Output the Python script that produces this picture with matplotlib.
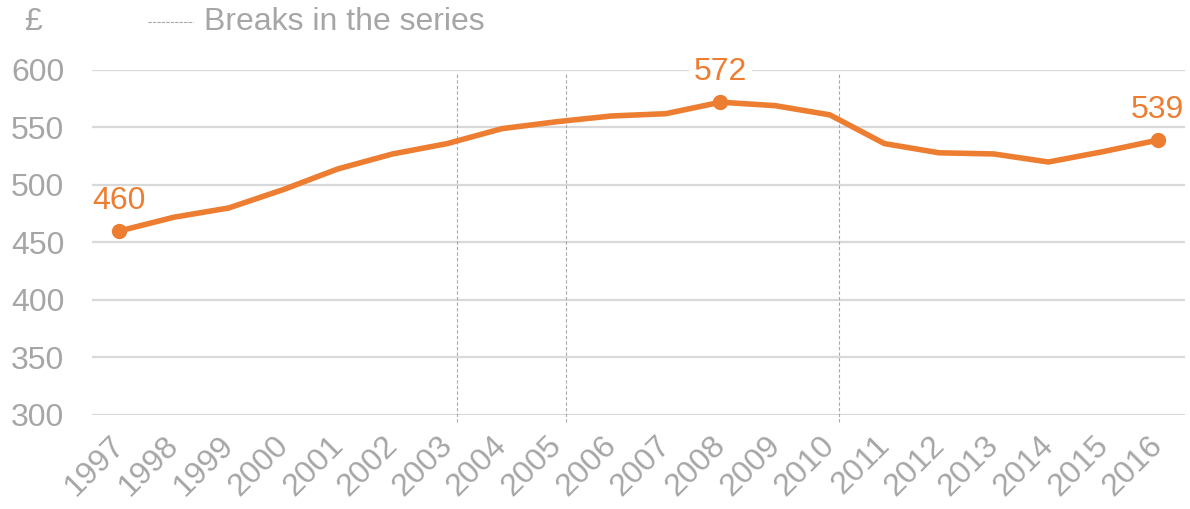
import matplotlib.pyplot as plt
from matplotlib.transforms import ScaledTranslation

years = list(range(1997, 2017))
weekly_pay = [460, 472, 480, 496, 514, 527, 536, 549, 555, 560,
              562, 572, 569, 561, 536, 528, 527, 520, 529, 539]
labelled_years = [1997, 2008, 2016]
break_years = [2003, 2005, 2010]

orange = '#ED7D31'
grey_text = '#A6A6A6'
grid_grey = '#D9D9D9'

plt.rcParams['font.family'] = ['Liberation Sans', 'DejaVu Sans']

fig = plt.figure(figsize=(11.9, 5.09), dpi=100)
ax = fig.add_axes([92 / 1190, 94 / 509, 1093 / 1190, 345 / 509])

ax.set_xlim(1996.5, 2016.5)
ax.set_ylim(300, 600)
ax.set_yticks(range(300, 601, 50))
ax.set_xticks(years)
ax.set_xticklabels([str(y) for y in years], rotation=45, ha='right',
                   rotation_mode='anchor')

ax.grid(axis='y', color=grid_grey, linewidth=1.6)
ax.set_axisbelow(True)
for s in ax.spines.values():
    s.set_visible(False)
ax.tick_params(length=0, labelsize=23, colors=grey_text)
ax.tick_params(axis='y', pad=20)
ax.tick_params(axis='x', pad=11)

# nudge the slanted year labels a little to the left
shift = ScaledTranslation(-10 / 100, 0, fig.dpi_scale_trans)
for lbl in ax.get_xticklabels():
    lbl.set_transform(lbl.get_transform() + shift)

# series breaks, drawn just to the right of the break year
for b in break_years:
    ax.vlines(b + 0.17, 294, 597, color='#A8A8A8', linewidth=0.8,
              linestyles=(0, (3, 2)), clip_on=False, zorder=1)

ax.plot(years, weekly_pay, color=orange, linewidth=4, zorder=3,
        solid_capstyle='round')

for y in labelled_years:
    v = weekly_pay[years.index(y)]
    ax.plot(y, v, 'o', color=orange, markersize=10, zorder=4, clip_on=False)
    txt = ax.annotate(str(v), (y, v), xytext=(0, 11),
                      textcoords='offset points', ha='center', va='bottom',
                      fontsize=23, color=orange, zorder=5)
    # the peak label sits on the top gridline, so blank the line behind it
    if v == max(weekly_pay):
        txt.set_bbox(dict(boxstyle='square,pad=0.15', fc='white', ec='none'))

# header: unit and legend for the break lines
fig.text(33 / 1190, 1 - 22 / 509, '£', fontsize=23, color=grey_text,
         ha='center', va='center')
fig.add_artist(plt.Line2D([148 / 1190, 193 / 1190], [1 - 22 / 509] * 2,
                          color='#A8A8A8', linewidth=0.8, linestyle=(0, (3, 1))))
fig.text(204 / 1190, 1 - 22 / 509, 'Breaks in the series', fontsize=23,
         color=grey_text, ha='left', va='center')

fig.savefig('out.png', dpi=100)
